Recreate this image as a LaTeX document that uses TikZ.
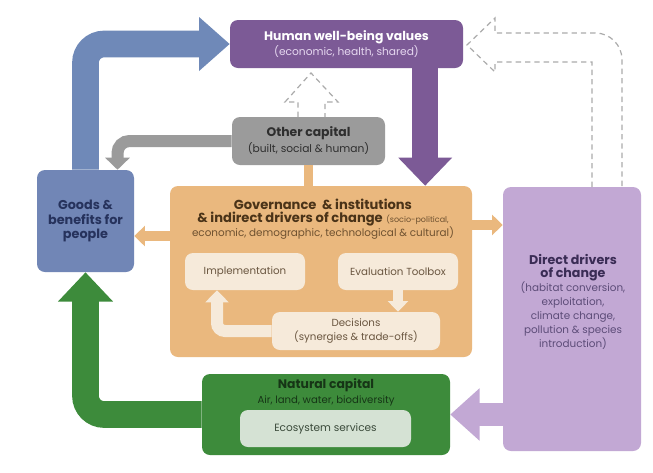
\documentclass[tikz,border=0pt]{standalone}
\usepackage{fontspec}
\setmainfont{Poppins}
\usetikzlibrary{arrows.meta}
\definecolor{hwbC}{HTML}{7C5A96}
\definecolor{hwbT}{HTML}{E6D8F0}
\definecolor{goodsC}{HTML}{7186B6}
\definecolor{goodsT}{HTML}{26325C}
\definecolor{blueA}{HTML}{6F89B8}
\definecolor{ocC}{HTML}{9B9B9B}
\definecolor{ocT}{HTML}{2E2E2E}
\definecolor{govC}{HTML}{EAB87E}
\definecolor{govT}{HTML}{4A3318}
\definecolor{govS}{HTML}{6E5130}
\definecolor{creamC}{HTML}{F6EADA}
\definecolor{creamT}{HTML}{6A5640}
\definecolor{ddC}{HTML}{C2A8D4}
\definecolor{ddT}{HTML}{3A2C55}
\definecolor{ddS}{HTML}{5C4C78}
\definecolor{natC}{HTML}{3D8B3B}
\definecolor{natT}{HTML}{163516}
\definecolor{ecoC}{HTML}{D5E2D4}
\definecolor{ecoT}{HTML}{3A4A3A}
\definecolor{dashC}{HTML}{ABABAB}
\begin{document}
\begin{tikzpicture}[x=0.75pt,y=-0.75pt,
  box/.style={rounded corners=6pt, inner sep=0pt, align=center},
  wh/.style 2 args={minimum width=#1*0.75pt, minimum height=#2*0.75pt},
  inbox/.style={box, fill=creamC, text=creamT, font=\fontsize{7.7}{9.8}\selectfont},
  hollow/.style={dashC, line width=0.9pt, dash pattern=on 4pt off 3pt},
  fat/.style={line width=#1},
]
\useasboundingbox[fill=white] (0,0) rectangle (653,472);

% boxes
\node[box, fill=hwbC, text=white, wh={233}{48}, font=\bfseries\fontsize{9.3}{11.2}\selectfont] (hwb) at (346.5,44)
  {Human well-being values\\
   {\color{hwbT}\mdseries\fontsize{8}{11.2}\selectfont (economic, health, shared)}};
\node[box, fill=goodsC, text=goodsT, wh={97}{102}, font=\bfseries\fontsize{9.6}{11}\selectfont] (goods) at (85.5,221)
  {Goods \&\\benefits for\\people};
\node[box, fill=ocC, text=ocT, wh={153}{48}, font=\bfseries\fontsize{9.3}{12}\selectfont] (oc) at (308.5,141)
  {Other capital\\
   {\mdseries\fontsize{8}{12}\selectfont (built, social \& human)}};
\node[box, fill=govC, wh={302}{171}] (gov) at (321,271.5) {};
\node[box, fill=ddC, wh={138}{264}] (dd) at (572,319) {};
\node[box, fill=natC, wh={248}{81}] (nat) at (326,414.5) {};

% texts in the large boxes
\node[align=center, text=govT, font=\fontsize{9.8}{10.2}\selectfont] (govtxt) at (323,219)
  {\textbf{Governance \ \& institutions}\\
   \textbf{\& indirect drivers of change} {\color{govS}\fontsize{6}{10.2}\selectfont(socio-political,}\\
   {\color{govS}\fontsize{7.8}{10.2}\selectfont economic, demographic, technological \& cultural)}};
\node[align=center, text=ddT, font=\fontsize{9.5}{10.4}\selectfont] (ddtxt) at (573,301.5)
  {\textbf{Direct drivers}\\\textbf{of change}\\
   {\color{ddS}\fontsize{7.8}{10.4}\selectfont(habitat conversion,}\\
   {\color{ddS}\fontsize{7.8}{10.4}\selectfont exploitation,}\\
   {\color{ddS}\fontsize{7.8}{10.4}\selectfont climate change,}\\
   {\color{ddS}\fontsize{7.8}{10.4}\selectfont pollution \& species}\\
   {\color{ddS}\fontsize{7.8}{10.4}\selectfont introduction)}};
\node[align=center, text=natT, font=\fontsize{9.3}{11}\selectfont] (nattxt) at (326,392.5)
  {\textbf{Natural capital}\\{\fontsize{7.6}{11}\selectfont Air, land, water, biodiversity}};

% inner boxes
\node[inbox, wh={120}{37}] (impl) at (245,271.5) {Implementation};
\node[inbox, wh={120}{37}] (eval) at (398,271.5) {Evaluation Toolbox};
\node[inbox, wh={168}{38}] (dec) at (356,331) {Decisions\\(synergies \& trade-offs)};
\node[box, fill=ecoC, text=ecoT, font=\fontsize{7.9}{9}\selectfont, wh={171}{37}] (eco) at (325.5,428.5) {Ecosystem services};

% thick arrows
\draw[blueA, fat=20pt, rounded corners=14pt, -{Triangle[width=39pt,length=23pt]}]
  (goods.north) |- (hwb.west);
\draw[natC, fat=20pt, rounded corners=14pt, -{Triangle[width=40pt,length=22pt]}]
  (nat.west) -| (goods.south);
\draw[ocC, fat=9pt, rounded corners=9pt, -{Triangle[width=18pt,length=9pt]}]
  (oc.west) -| ([xshift=24pt]goods.north);
\coordinate (pdn) at ([xshift=59pt]hwb.south);
\draw[hwbC, fat=19.5pt, -{Triangle[width=39pt,length=21pt]}]
  (pdn) -- (pdn |- gov.north);
\draw[ddC, fat=17pt, -{Triangle[width=38pt,length=22pt]}]
  (dd.west |- nat.east) -- (nat.east);

% orange links of the governance box
\coordinate (oL) at ([yshift=26.6pt]gov.west);
\coordinate (oR) at ([yshift=34.9pt]gov.east);
\draw[govC, fat=7pt, -{Triangle[width=15pt,length=8pt]}] (oL) -- (oL -| goods.east);
\draw[govC, fat=7pt, -{Triangle[width=15pt,length=8pt]}] (oR) -- (oR -| dd.west);
\draw[govC, fat=7pt] (gov.north -| oc.south) -- (oc.south);

% arrows inside the governance box
\draw[creamC, fat=7pt, -{Triangle[width=15pt,length=8pt]}] (eval.south) -- (eval.south |- dec.north);
\draw[creamC, fat=9pt, rounded corners=6pt, -{Triangle[width=17pt,length=9pt]}]
  (dec.west) -| ([xshift=-21pt]impl.south);

% hollow dashed arrows
\draw[hollow] (298,117) -- (298,102) -- (285,102) -- (311,73) -- (338,102) -- (325,102) -- (325,117);
\draw[hollow] (592,187) -- (592,62) -- (495,62) -- (495,72) -- (467,45) -- (495,18) -- (495,33)
  [rounded corners=20pt] -- (622,33) -- (622,187);
\end{tikzpicture}
\end{document}
